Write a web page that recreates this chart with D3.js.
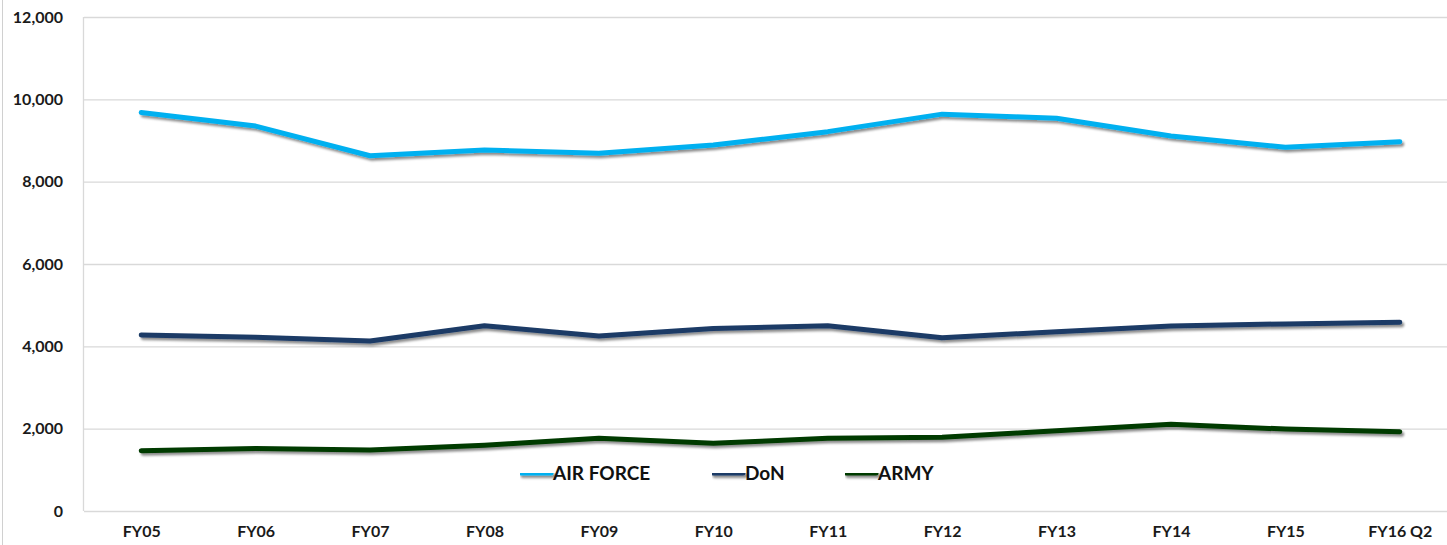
<!DOCTYPE html>
<html>
<head>
<meta charset="utf-8">
<script src="https://cdn.jsdelivr.net/npm/d3@7"></script>
<style>
  html, body { margin: 0; padding: 0; background: #fff; }
  svg { display: block; font-family: Lato, "Open Sans", sans-serif; font-weight: bold; }
</style>
</head>
<body>
<svg id="chart" width="1447" height="545"></svg>
<script>
'use strict';

const categories = ["FY05", "FY06", "FY07", "FY08", "FY09", "FY10", "FY11", "FY12", "FY13", "FY14", "FY15", "FY16 Q2"];
const airForce = [9680, 9350, 8630, 8770, 8690, 8890, 9215, 9640, 9540, 9110, 8835, 8970];
const doN = [4275, 4220, 4130, 4500, 4250, 4435, 4500, 4210, 4355, 4495, 4545, 4585];
const army = [1465, 1520, 1480, 1600, 1765, 1645, 1765, 1790, 1950, 2110, 1990, 1925];
const yTicks = [0, 2000, 4000, 6000, 8000, 10000, 12000];

const series = [
  { label: "AIR FORCE", color: "#00b0f0", values: airForce },
  { label: "DoN", color: "#1b3a66", values: doN },
  { label: "ARMY", color: "#033a03", values: army }
];

const width = 1447, height = 545;
const margin = { top: 17, right: -10, bottom: 34, left: 84 };

const svg = d3.select("#chart");

// soft drop shadow like the original office chart
const shadow = svg.append("defs").append("filter")
  .attr("id", "shadow")
  .attr("filterUnits", "userSpaceOnUse")
  .attr("x", 0).attr("y", 0)
  .attr("width", width).attr("height", height);
shadow.append("feDropShadow")
  .attr("dx", 2).attr("dy", 2.5)
  .attr("stdDeviation", 1.3)
  .attr("flood-color", "#000")
  .attr("flood-opacity", 0.45);

const x = d3.scalePoint()
  .domain(categories)
  .range([margin.left, width - margin.right])
  .padding(0.5);

const y = d3.scaleLinear()
  .domain([0, 12000])
  .range([height - margin.bottom, margin.top]);

// chart area border at the far left
svg.append("line")
  .attr("x1", 2.5).attr("x2", 2.5)
  .attr("y1", 0).attr("y2", height)
  .attr("stroke", "#d0d0d0");

// grid lines
svg.append("g")
  .attr("transform", `translate(${margin.left},0)`)
  .call(d3.axisLeft(y).tickValues(yTicks).tickSize(-(width - margin.left)).tickFormat(""))
  .call(g => g.select(".domain").remove())
  .call(g => g.selectAll(".tick line").attr("stroke", "#d9d9d9").attr("stroke-width", 1.3));

// left edge of plot area
svg.append("line")
  .attr("x1", margin.left - 0.5).attr("x2", margin.left - 0.5)
  .attr("y1", y(12000)).attr("y2", y(0))
  .attr("stroke", "#d9d9d9").attr("stroke-width", 1.3);

const labelStyle = g => g.selectAll("text")
  .attr("fill", "#1a1a1a")
  .style("font-size", "16px")
  .style("font-family", "Lato, 'Open Sans', sans-serif")
  .style("font-weight", "bold");

// y axis labels
svg.append("g")
  .attr("transform", `translate(${margin.left},0)`)
  .call(d3.axisLeft(y).tickValues(yTicks).tickSize(0).tickPadding(21).tickFormat(d3.format(",")))
  .call(g => g.select(".domain").remove())
  .call(labelStyle);

// x axis labels
svg.append("g")
  .attr("transform", `translate(0,${y(0)})`)
  .call(d3.axisBottom(x).tickSize(0).tickPadding(15))
  .call(g => g.select(".domain").remove())
  .call(labelStyle);

const line = d3.line()
  .x((d, i) => x(categories[i]))
  .y(d => y(d));

for (const s of series) {
  svg.append("path")
    .datum(s.values)
    .attr("fill", "none")
    .attr("stroke", s.color)
    .attr("stroke-width", 5)
    .attr("stroke-linejoin", "round")
    .attr("stroke-linecap", "round")
    .attr("filter", "url(#shadow)")
    .attr("d", line);
}

// legend
const legendX = [520, 712, 845];
const legend = svg.append("g").attr("transform", "translate(0,473)");
const items = legend.selectAll("g")
  .data(series)
  .enter()
  .append("g")
  .attr("transform", (d, i) => `translate(${legendX[i]},0)`);

items.append("line")
  .attr("x1", 1).attr("x2", 31)
  .attr("y1", 0).attr("y2", 0)
  .attr("stroke", d => d.color)
  .attr("stroke-width", 5)
  .attr("stroke-linecap", "round")
  .attr("filter", "url(#shadow)");

items.append("text")
  .attr("x", 33)
  .attr("y", 7)
  .text(d => d.label)
  .attr("fill", "#111")
  .style("font-size", "19px");
</script>
</body>
</html>
